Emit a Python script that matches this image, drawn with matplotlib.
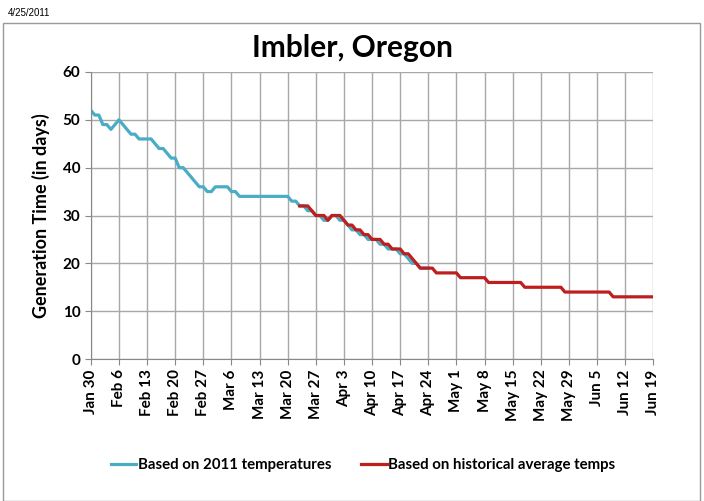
import matplotlib.pyplot as plt
import numpy as np
from matplotlib.patches import Rectangle

plt.rcParams['font.family'] = ['Lato', 'DejaVu Sans']

# days counted from Jan 30, 2011
blue_start = 0
blue_vals = [52, 51, 51, 49, 49, 48, 49, 50, 49, 48, 47, 47, 46, 46, 46, 46, 45, 44, 44, 43,
             42, 42, 40, 40, 39, 38, 37, 36, 36, 35, 35, 36, 36, 36, 36, 35, 35, 34, 34, 34,
             34, 34, 34, 34, 34, 34, 34, 34, 34, 34, 33, 33, 32, 32, 31, 31, 30, 30, 29, 29,
             30, 30, 29, 29, 28, 27, 27, 26, 26, 25, 25, 25, 24, 24, 23, 23, 23, 22, 22, 21,
             20, 20, 19, 19, 19]

red_start = 52
red_vals = [32, 32, 32, 31, 30, 30, 30, 29, 30, 30, 30, 29, 28, 28, 27, 27, 26, 26, 25, 25,
            25, 24, 24, 23, 23, 23, 22, 22, 21, 20, 19, 19, 19, 19,
            18, 18, 18, 18, 18, 18,
            17, 17, 17, 17, 17, 17, 17,
            16, 16, 16, 16, 16, 16, 16, 16, 16,
            15, 15, 15, 15, 15, 15, 15, 15, 15, 15,
            14, 14, 14, 14, 14, 14, 14, 14, 14, 14, 14, 14,
            13, 13, 13, 13, 13, 13, 13, 13, 13, 13, 13]

tick_labels = ['Jan 30', 'Feb 6', 'Feb 13', 'Feb 20', 'Feb 27', 'Mar 6', 'Mar 13', 'Mar 20',
               'Mar 27', 'Apr 3', 'Apr 10', 'Apr 17', 'Apr 24', 'May 1', 'May 8', 'May 15',
               'May 22', 'May 29', 'Jun 5', 'Jun 12', 'Jun 19']

blue_x = blue_start + np.arange(len(blue_vals))
red_x = red_start + np.arange(len(red_vals))

fig = plt.figure(figsize=(7.04, 5.01), dpi=100)
ax = fig.add_axes([0.129, 0.2834, 0.799, 0.5729])

ax.plot(blue_x, blue_vals, color='#4BACC6', lw=2.3, label='Based on 2011 temperatures')
ax.plot(red_x, red_vals, color='#BE1E1E', lw=2.3, label='Based on historical average temps')

ticks = np.arange(len(tick_labels)) * 7
ax.set_xlim(0, ticks[-1])
ax.set_ylim(0, 60)
ax.set_xticks(ticks)
ax.set_xticklabels(tick_labels, rotation=90, fontsize=11, fontweight='bold')
ax.set_yticks(range(0, 61, 10))
ax.tick_params(axis='y', labelsize=11, length=4, color='#888888')
ax.tick_params(axis='x', length=4, color='#888888')
for t in ax.get_yticklabels():
    t.set_fontweight('bold')
ax.grid(True, color='#A8A8A8', lw=1)
ax.set_axisbelow(True)
for s in ['top', 'right']:
    ax.spines[s].set_visible(False)
for s in ['left', 'bottom']:
    ax.spines[s].set_color('#888888')

ax.set_ylabel('Generation Time (in days)', fontsize=13, fontweight='bold', labelpad=9)
fig.text(0.5, 0.886, 'Imbler, Oregon', ha='center', fontsize=21.5, fontweight='bold')

fig.legend(loc='center', bbox_to_anchor=(0.516, 0.072), ncol=2, frameon=False,
           handlelength=1.7, handletextpad=0.1, columnspacing=2.0,
           prop={'weight': 'bold', 'size': 10.8})

fig.patches.append(Rectangle((0.004, 0.0), 0.99, 0.955, transform=fig.transFigure,
                             fill=False, edgecolor='#999999', lw=1))
fig.text(0.011, 0.968, '4/25/2011', fontsize=7, family='Liberation Sans')

fig.savefig('out.png', dpi=100)
